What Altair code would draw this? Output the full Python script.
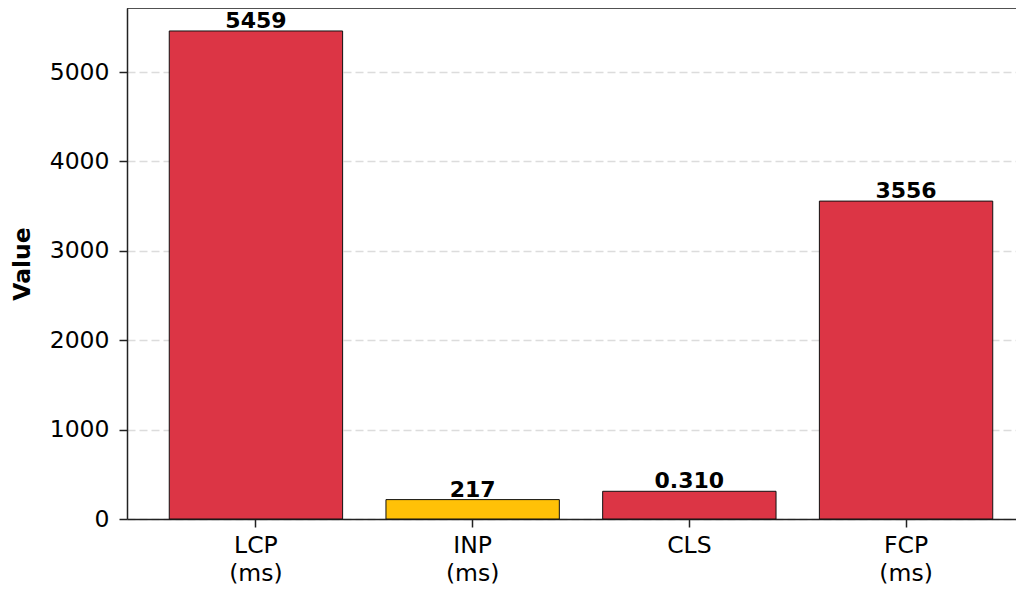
import altair as alt
import pandas as pd

metrics = ["LCP\n(ms)", "INP\n(ms)", "CLS", "FCP\n(ms)"]
values = [5459, 217, 310, 3556]
value_labels = ["5459", "217", "0.310", "3556"]
status = ["poor", "needs improvement", "poor", "poor"]
y_ticks = [0, 1000, 2000, 3000, 4000, 5000]

df = pd.DataFrame({"metric": metrics, "value": values, "label": value_labels, "status": status})

FONT = "DejaVu Sans"
W, H = 889, 511

x_enc = alt.X(
    "metric:N",
    sort=metrics,
    scale=alt.Scale(range=[0, 908], paddingInner=0.2, paddingOuter=0.195),
    axis=alt.Axis(
        title=None,
        labelAngle=0,
        labelExpr="split(datum.label, '\\n')",
        labelFontSize=23.5,
        labelFont=FONT,
        labelColor="#000000",
        labelLineHeight=28,
        labelPadding=6,
        tickSize=8,
        tickWidth=1.5,
        tickColor="#222222",
        domainColor="#222222",
        domainWidth=1.5,
        grid=False,
    ),
)

y_enc = alt.Y(
    "value:Q",
    scale=alt.Scale(domain=[0, 5716], nice=False, zero=True),
    axis=alt.Axis(
        title="Value",
        titleFont=FONT,
        titleFontSize=23.5,
        titleFontWeight="bold",
        titleColor="#000000",
        titlePadding=15,
        values=y_ticks,
        format="d",
        labelFontSize=23.5,
        labelFont=FONT,
        labelColor="#000000",
        labelPadding=10,
        tickSize=8,
        tickWidth=1.5,
        tickColor="#222222",
        domainColor="#222222",
        domainWidth=1.5,
        grid=True,
        gridColor="#dcdcdc",
        gridDash=[8, 4],
        gridWidth=1.3,
    ),
)

bars = alt.Chart(df).mark_bar(stroke="#111111", strokeWidth=1).encode(
    x=x_enc,
    y=y_enc,
    color=alt.Color(
        "status:N",
        scale=alt.Scale(domain=["poor", "needs improvement"], range=["#dc3545", "#ffc107"]),
        legend=None,
    ),
)

text = alt.Chart(df).mark_text(
    font=FONT, fontSize=22, fontWeight="bold", color="#000000", baseline="alphabetic", dy=-3
).encode(
    x=alt.X("metric:N", sort=metrics),
    y=alt.Y("value:Q"),
    text="label:N",
)

top_spine = alt.Chart(pd.DataFrame({"k": [0]})).mark_rule(color="#222222", strokeWidth=1.5).encode(
    x=alt.value(0), x2=alt.value(908), y=alt.value(0)
)

chart = alt.layer(bars, text, top_spine).properties(
    width=W,
    height=H,
    autosize=alt.AutoSizeParams(type="none"),
    padding={"left": 119, "top": 0, "right": 0, "bottom": 67},
).configure_view(stroke=None).configure(font=FONT)

chart.save("out.html", embed_options={"renderer": "svg", "actions": False})
